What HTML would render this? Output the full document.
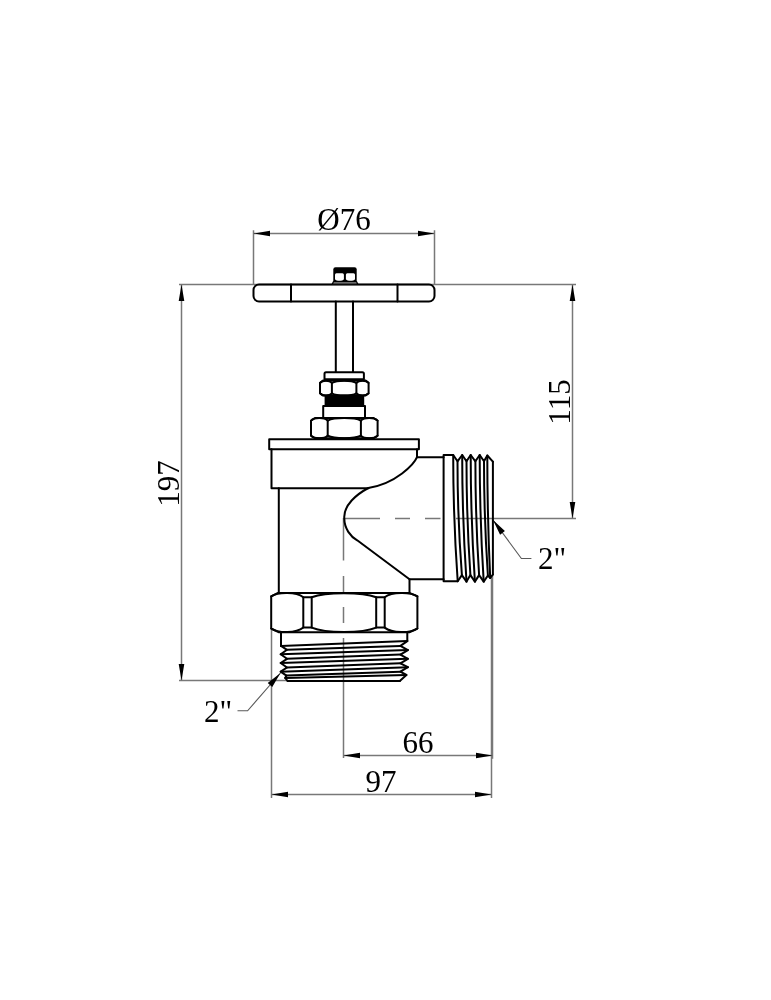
<!DOCTYPE html>
<html><head><meta charset="utf-8">
<style>
html,body{margin:0;padding:0;background:#fff;}
svg{display:block;will-change:transform;}
text{font-family:"Liberation Serif",serif;fill:#000;}
</style></head>
<body>
<svg width="771" height="1000" viewBox="0 0 771 1000">
<rect width="771" height="1000" fill="#fff"/>
<path stroke="#5a5a5a" stroke-width="1.1" fill="none" d="M493,520L521.4,558.5H531.4 M280.5,673L247.6,710.8H237.5"/>
<g stroke="#787878" stroke-width="1.5" fill="none">
<path d="M253.5,230.3V284 M434.5,230.3V284 M253.5,233.5H434.5"/>
<path d="M179,284.5H576"/>
<path d="M179,680.5H287"/>
<path d="M181.5,284.5V680.5"/>
<path d="M572.5,284.5V518.5"/>
<path d="M456,518.5H576"/>
<path d="M344.5,518.5H380 M395,518.5H410 M425,518.5H440.5"/>
<path d="M343.5,518V560.5 M343.5,576V592.5 M343.5,607V623 M343.5,638V758"/>
<path d="M492.5,575V758.8 M491.5,575V798 M343.5,755.5H492.5"/>
<path d="M271.5,629V798 M271.5,794.5H491.5"/>
</g>
<path fill="#000" d="M253.5,233.5 L270,236.3 L270,230.7 Z M434.5,233.5 L418,230.7 L418,236.3 Z M181.5,284.5 L178.7,301 L184.3,301 Z M181.5,680.5 L184.3,664 L178.7,664 Z M572.5,284.5 L569.7,301 L575.3,301 Z M572.5,518.5 L575.3,502 L569.7,502 Z M343.5,755.5 L360,758.3 L360,752.7 Z M492.5,755.5 L476,752.7 L476,758.3 Z M271.5,794.5 L288,797.3 L288,791.7 Z M491.5,794.5 L475,791.7 L475,797.3 Z M493,520 L500.08,534.66 L504.91,531.09 Z M280.5,673 L267.73,683.1 L272.26,687.04 Z"/>
<text x="344" y="230" font-size="31" text-anchor="middle">Ø76</text>
<text transform="translate(179,483.6) rotate(-90)" font-size="31" text-anchor="middle">197</text>
<text transform="translate(570.4,402) rotate(-90)" font-size="31" text-anchor="middle">115</text>
<text x="418" y="752.5" font-size="31" text-anchor="middle">66</text>
<text x="381" y="791.5" font-size="31" text-anchor="middle">97</text>
<text x="538" y="569.2" font-size="31">2"</text>
<text x="204" y="721.8" font-size="31">2"</text>
<g stroke="#000" stroke-width="2.0" fill="none" stroke-linejoin="round" stroke-linecap="round">
<path d="M259,284.5H429 A5.5,5.5 0 0 1 434.5,290 V296 A5.5,5.5 0 0 1 429,301.5 H259 A5.5,5.5 0 0 1 253.5,296 V290 A5.5,5.5 0 0 1 259,284.5Z"/>
<path d="M291,284.5V301.5 M397.5,284.5V301.5"/>
<path d="M335.8,301.5V372 M353,301.5V372"/>
<path d="M326,372.3H362.4Q363.9,372.3 363.9,373.8V379.3H324.5V373.8Q324.5,372.3 326,372.3Z"/>
<path d="M323,380.6 H365.6 L368.6,383.1 V393.1 L365.6,395.6 H323 L320,393.1 V383.1 Z"/>
<path d="M331.9,382.8 V393.4"/>
<path d="M356.4,382.8 V393.4"/>
<path d="M320,382.8 C322.38,379.94 329.52,379.94 331.9,382.8"/>
<path d="M320,393.4 C322.38,396.26 329.52,396.26 331.9,393.4"/>
<path d="M331.9,382.8 C336.8,379.94 351.5,379.94 356.4,382.8"/>
<path d="M331.9,393.4 C336.8,396.26 351.5,396.26 356.4,393.4"/>
<path d="M356.4,382.8 C358.84,379.94 366.16,379.94 368.6,382.8"/>
<path d="M356.4,393.4 C358.84,396.26 366.16,396.26 368.6,393.4"/>
<path d="M323.2,406H365V418H323.2Z"/>
<path d="M315,418 H373.6 L377.6,420.8 V435.5 L373.6,438.3 H315 L311,435.5 V420.8 Z"/>
<path d="M327.7,420.6 V435.7"/>
<path d="M360.9,420.6 V435.7"/>
<path d="M311,420.6 C314.34,417.22 324.36,417.22 327.7,420.6"/>
<path d="M311,435.7 C314.34,439.08 324.36,439.08 327.7,435.7"/>
<path d="M327.7,420.6 C334.34,417.22 354.26,417.22 360.9,420.6"/>
<path d="M327.7,435.7 C334.34,439.08 354.26,439.08 360.9,435.7"/>
<path d="M360.9,420.6 C364.24,417.22 374.26,417.22 377.6,420.6"/>
<path d="M360.9,435.7 C364.24,439.08 374.26,439.08 377.6,435.7"/>
<path d="M269.2,439.2H418.9V449.3H269.2Z"/>
<path d="M271.5,449.3V488.3H368.5"/>
<path d="M417,449.3V457.2H443.6"/>
<path d="M417,457.2C414.18,464.01 396.23,483.62 368.3,488C357.01,494.13 343.17,505.04 344.3,518.6C344.37,528.7 350.58,536.62 357.2,540.3L409.5,579.3V593"/>
<path d="M278.8,488.3V593"/>
<path d="M409.5,579.3H443.6"/>
<path d="M443.6,455H453.2Q453.2,518 457.7,581.3H443.6Z"/>
<path d="M453.2,455 L457.5,461.3 L462.2,455 L466.5,461.3 L470.7,455 L475.4,461.3 L479.7,455 L484,461.3 L487.3,455.5 L492.9,461.7"/>
<path d="M457.7,581.3 L461.9,575.1 L466.5,581.6 L470.4,575.1 L474.9,581.6 L479.1,575.1 L483.7,581.6 L487.9,575.5 L490.2,578 L492.9,574.5"/>
<path d="M457.5,461.3 Q457.5,518.2 461.9,575.1"/>
<path d="M462.2,455 Q462.2,518.3 466.5,581.6"/>
<path d="M466.5,461.3 Q466.5,518.2 470.4,575.1"/>
<path d="M470.7,455 Q470.7,518.3 474.9,581.6"/>
<path d="M475.4,461.3 Q475.4,518.2 479.1,575.1"/>
<path d="M479.7,455 Q479.7,518.3 483.7,581.6"/>
<path d="M484,461.3 Q484,518.4 487.9,575.5"/>
<path d="M487.3,455.5 Q487.3,516.75 490.2,578"/>
<path d="M492.9,461.7 Q492.9,518.1 492.9,574.5"/>
<path d="M278,592.9 H409.4 L417.4,596.4 V628.5 L409.4,632.3 H279 L271.2,628.5 V596.4 Z"/>
<path d="M303.3,597.3V627.6 M311.7,597.3V627.6 M303.3,597.3H311.7 M303.3,627.6H311.7"/>
<path d="M376.2,597.3V627.6 M384.7,597.3V627.6 M376.2,597.3H384.7 M376.2,627.6H384.7"/>
<path d="M271.2,596.4 C278.26,591.8 296.24,591.8 303.3,597.3"/>
<path d="M271.2,628.5 C278.26,633.4 296.24,633.4 303.3,627.6"/>
<path d="M311.7,597.3 C325.89,591.8 362.01,591.8 376.2,597.3"/>
<path d="M311.7,627.6 C325.89,633.4 362.01,633.4 376.2,627.6"/>
<path d="M384.7,597.3 C391.89,591.8 410.21,591.8 417.4,596.4"/>
<path d="M384.7,627.6 C391.89,633.4 410.21,633.4 417.4,628.5"/>
<path d="M281,632.3V645.9 M407.3,632.3V641.1"/>
<path d="M281,645.9 L287,649.8 L280.7,654.3 L287,658.8 L280.7,663 L287,667.5 L280.7,671.7 L286.4,675.6 L285.2,678 L287.6,681"/>
<path d="M407.3,641.1 L400.4,645.9 L407.9,650.1 L400.4,654.6 L407.9,658.8 L400.4,663.3 L407.9,667.2 L400.4,671.7 L406.4,675 L399.8,681"/>
<path d="M281,645.9 L407.3,641.1"/>
<path d="M287,649.8 L400.4,645.9"/>
<path d="M280.7,654.3 L407.9,650.1"/>
<path d="M287,658.8 L400.4,654.6"/>
<path d="M280.7,663 L407.9,658.8"/>
<path d="M287,667.5 L400.4,663.3"/>
<path d="M280.7,671.7 L407.9,667.2"/>
<path d="M286.4,675.6 L400.4,671.7"/>
<path d="M285.2,678 L406.4,675"/>
<path d="M287.6,681 L399.8,681"/>
</g>
<rect x="324.6" y="395.6" width="39.6" height="10.6" fill="#000"/>
<path fill="#000" d="M335.5,267.3H354.5Q356.7,267.3 356.7,269.5V281.6H333.3V269.5Q333.3,267.3 335.5,267.3Z"/>
<path fill="#fff" d="M336.4,273.2H342.4Q343.9,273.2 343.9,274.7V279.3C342.5,281.3 336.4,281.3 335,279.3V274.7Q335,273.2 336.4,273.2Z M347.3,273.2H353.5Q355,273.2 355,274.7V279.3C353.6,281.3 347.3,281.3 345.9,279.3V274.7Q345.9,273.2 347.3,273.2Z"/>
<path d="M333.4,281.7H356.6L357.8,284.2H332.2Z" fill="#909090" stroke="#000" stroke-width="1.3" stroke-linejoin="round"/>
</svg>
</body></html>
